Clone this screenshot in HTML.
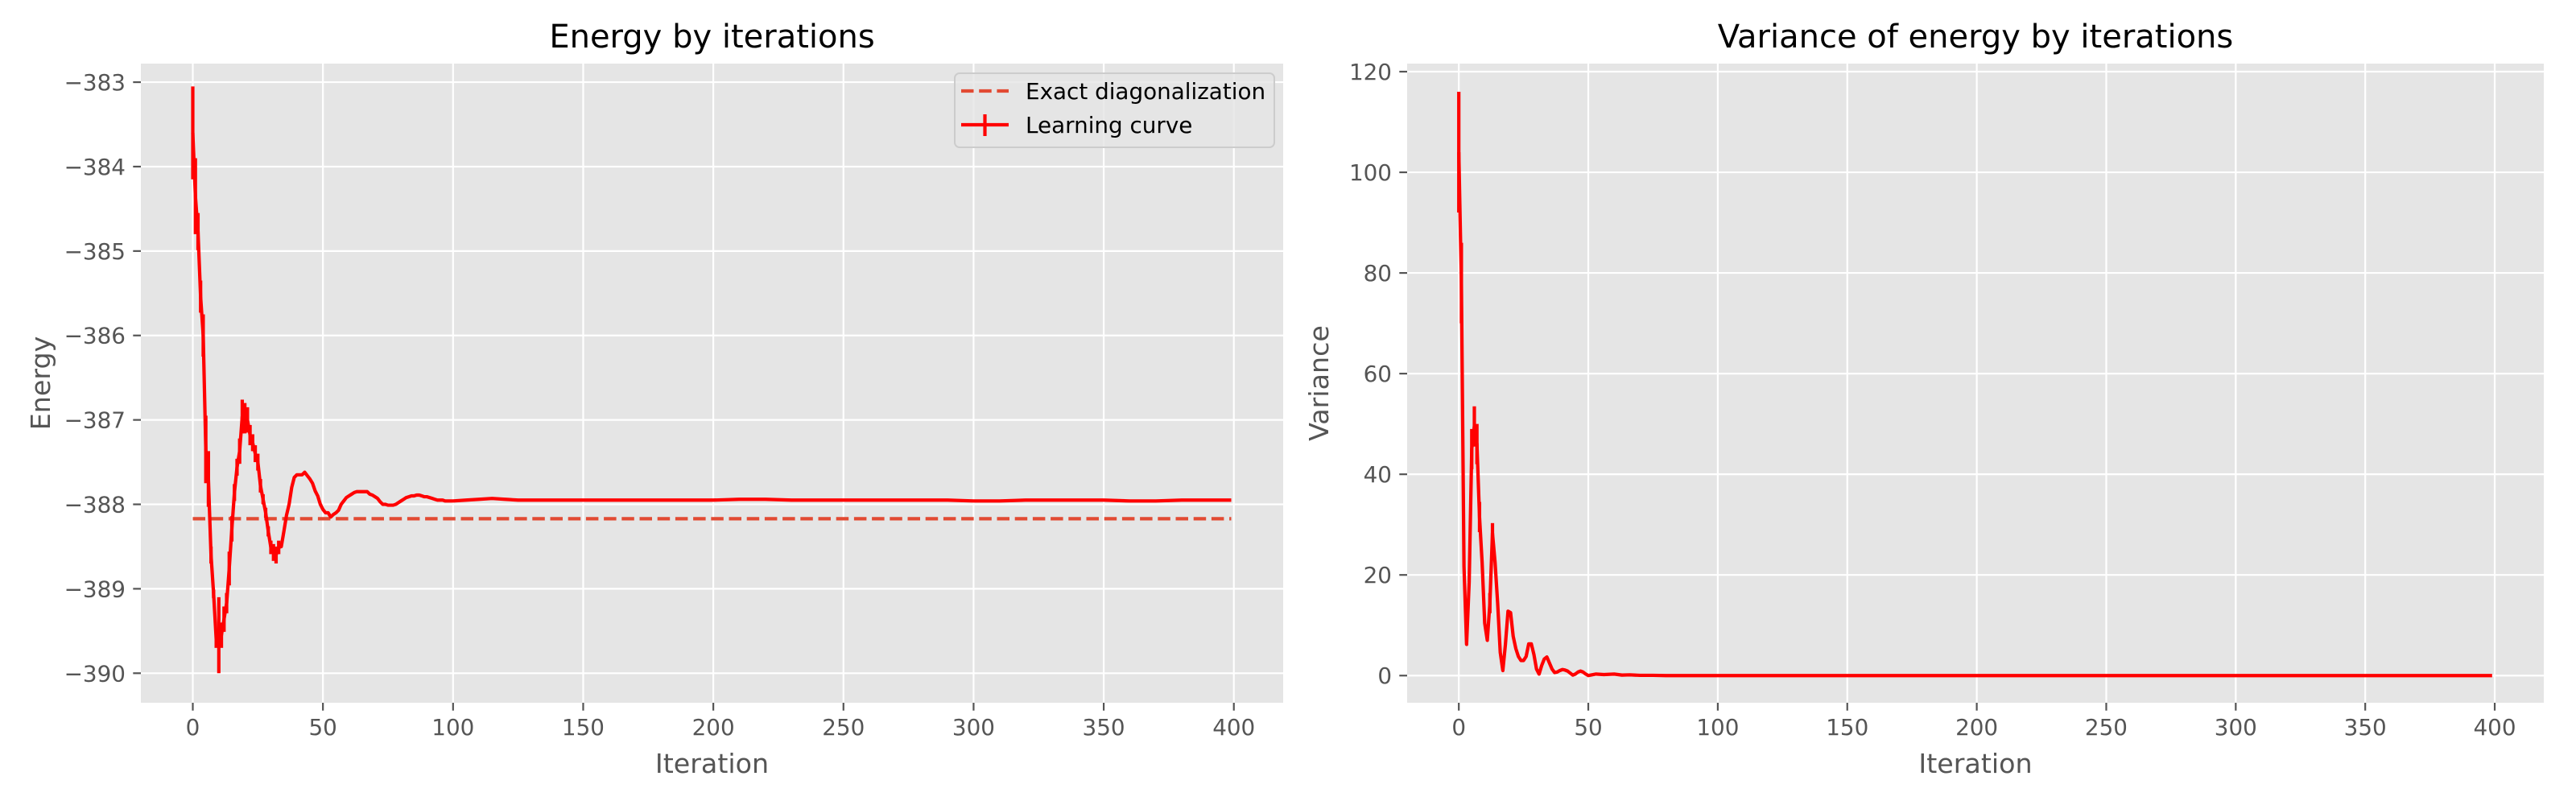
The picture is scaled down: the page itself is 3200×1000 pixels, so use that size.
<!DOCTYPE html>
<html><head><meta charset="utf-8"><style>
html,body{margin:0;padding:0;background:#fff;width:3200px;height:1000px;overflow:hidden}
svg{display:block}
text{font-family:"DejaVu Sans","Liberation Sans",sans-serif}
</style></head>
<body>
<svg id="fig" width="3200" height="1000" xmlns="http://www.w3.org/2000/svg"></svg>
<script>
// ---------- Energy data ----------
const energyIters = [0,1,2,3,4,5,6,7,8,9,10,11,12,13,14,15,16,17,18,19,20,21,22,23,24,25,26,27,28,29,30,31,32,33,34,35,36,37,38,39,40,41,42,43,44,45,46,47,48,49,50,51,52,53,54,55,56,57,58,59,60,61,62,63,64,65,66,67,68,69,70,71,72,73,74,75,76,77,78,79,80,81,82,83,84,85,86,87,88,89,90,91,92,93,94,95,96,97,98,99,100,105,110,115,120,125,130,140,150,160,170,180,190,200,210,220,230,240,250,260,270,280,290,300,310,320,330,340,350,360,370,380,390,399];
const energyValues = [
-383.6,-384.35,-384.77,-385.54,-386.0,-387.35,-387.7,-388.6,-389.06,-389.6,
-389.55,-389.55,-389.36,-389.17,-388.76,-388.29,-387.86,-387.56,-387.37,-386.96,
-386.98,-387.0,-387.18,-387.27,-387.4,-387.5,-387.78,-387.94,-388.1,-388.32,
-388.51,-388.57,-388.6,-388.51,-388.5,-388.32,-388.13,-388.0,-387.8,-387.68,
-387.65,-387.65,-387.65,-387.62,-387.66,-387.7,-387.75,-387.84,-387.9,-388.0,
-388.06,-388.1,-388.1,-388.15,-388.12,-388.1,-388.07,-388.0,-387.96,-387.92,
-387.9,-387.88,-387.86,-387.85,-387.85,-387.85,-387.85,-387.85,-387.88,-387.89,
-387.91,-387.93,-387.97,-388.0,-388.0,-388.01,-388.01,-388.01,-388.0,-387.98,
-387.96,-387.94,-387.92,-387.91,-387.9,-387.9,-387.89,-387.89,-387.9,-387.91,
-387.91,-387.92,-387.93,-387.94,-387.95,-387.95,-387.95,-387.96,-387.96,-387.96,
-387.96,
-387.95,-387.94,-387.93,-387.94,-387.95,-387.95,
-387.95,-387.95,-387.95,-387.95,-387.95,-387.95,-387.95,-387.94,-387.94,-387.95,
-387.95,-387.95,-387.95,-387.95,-387.95,-387.95,-387.96,-387.96,-387.95,-387.95,
-387.95,-387.95,-387.96,-387.96,-387.95,-387.95,
-387.95];
const energyErrIters = [0,1,2,3,4,5,6,7,8,9,10,11,12,13,14,15,16,17,18,19,20,21,22,23,24,25,26,27,28,29,30,31,32,33];
const energyErrors = [0.55,0.45,0.22,0.19,0.25,0.4,0.33,0.1,0.05,0.1,0.45,0.15,0.15,0.12,0.2,0.15,0.1,0.1,0.15,0.2,0.18,0.15,0.12,0.1,0.1,0.1,0.08,0.06,0.06,0.06,0.08,0.1,0.1,0.08];
const exactValue = -388.17;
const energyTicks = [-383,-384,-385,-386,-387,-388,-389,-390];
const xTicks = [0,50,100,150,200,250,300,350,400];

// ---------- Variance data ----------
const varIters = [0,1,2,3,4,5,6,7,8,9,10,11,12,13,14,15,16,17,18,19,20,21,22,23,24,25,26,27,28,29,30,31,32,33,34,35,36,37,38,39,40,41,42,43,44,45,46,47,48,49,50,53,56,60,63,66,70,75,80,100,150,200,250,300,350,399];
const varValues = [104,78,21.7,6.2,18.5,45,49.5,46,31.5,22.5,10.4,7,14.4,28.3,22.5,14.4,4.6,1.0,6.2,12.8,12.5,7.8,5.4,3.8,3.0,3.0,3.8,6.3,6.3,4.2,1.3,0.3,2.0,3.3,3.7,2.5,1.3,0.6,0.7,1.0,1.2,1.1,0.9,0.5,0.1,0.3,0.7,0.9,0.7,0.3,0.0,0.3,0.2,0.3,0.1,0.15,0.05,0.05,0,0,0,0,0,0,0,0];
const varErrIters = [0,1,5,6,7,8,12,13];
const varErrors = [12,8,4,4,4,3,2,2];
const varTicks = [0,20,40,60,80,100,120];

const NS='http://www.w3.org/2000/svg';
const svg=document.getElementById('fig');
function mk(tag,attrs,parent){const e=document.createElementNS(NS,tag);for(const k in attrs)e.setAttribute(k,attrs[k]);(parent||svg).appendChild(e);return e;}
function fmt(v){return (v<0?'\u2212':'')+Math.abs(v);}

const XMIN=-19.95, XMAX=418.95;
function makeAxes(p){
  const g=mk('g',{});
  
  
  const sx=v=>p.L+(v-XMIN)/(XMAX-XMIN)*(p.R-p.L);
  const sy=v=>p.B-(v-p.ymin)/(p.ymax-p.ymin)*(p.B-p.T);
  const bg=mk('rect',{x:p.L,y:p.T,width:p.R-p.L,height:p.B-p.T,fill:'#E5E5E5'},g);
  
  
  p.yticks.forEach(t=>{
    const y=sy(t);
    mk('line',{x1:p.L,x2:p.R,y1:y,y2:y,stroke:'#fff','stroke-width':2.2},g);
    mk('line',{x1:p.L-9.7,x2:p.L,y1:y,y2:y,stroke:'#555','stroke-width':2.2},g);
    const tx=mk('text',{x:p.L-19,y:y+10,'text-anchor':'end','font-size':27.8,fill:'#555'},g);
    tx.textContent=fmt(t);
    
    
  });
  xTicks.forEach(t=>{
    const x=sx(t);
    mk('line',{x1:x,x2:x,y1:p.T,y2:p.B,stroke:'#fff','stroke-width':2.2},g);
    mk('line',{x1:x,x2:x,y1:p.B,y2:p.B+9.7,stroke:'#555','stroke-width':2.2},g);
    const tx=mk('text',{x:x,y:p.B+40,'text-anchor':'middle','font-size':27.8,fill:'#555'},g);
    tx.textContent=t;
    
    
  });
  const title=mk('text',{x:(p.L+p.R)/2,y:p.T-20,'text-anchor':'middle','font-size':40,fill:'#000'},g);
  title.textContent=p.title;
  
  
  const xl=mk('text',{x:(p.L+p.R)/2,y:960,'text-anchor':'middle','font-size':33.3,fill:'#555'},g);
  xl.textContent='Iteration';
  
  
  const yl=mk('text',{x:0,y:0,'text-anchor':'middle','font-size':33.3,fill:'#555',transform:`translate(${p.ylx},${(p.T+p.B)/2}) rotate(-90)`},g);
  yl.textContent=p.ylabel;
  
  
  return {g,sx,sy};
}

// ---------- Left: energy ----------
const A=makeAxes({name:'energy-chart',L:175,R:1594,T:79,B:873,ymin:-390.35,ymax:-382.78,yticks:energyTicks,title:'Energy by iterations',ylabel:'Energy',ylx:62});
const exact=mk('line',{x1:A.sx(0),x2:A.sx(399),y1:A.sy(exactValue),y2:A.sy(exactValue),stroke:'#E24A33','stroke-width':4.2,'stroke-dasharray':'15.5 6.7'},A.g);


const ePts=energyIters.map((it,i)=>A.sx(it).toFixed(2)+','+A.sy(energyValues[i]).toFixed(2)).join(' ');
const eLine=mk('polyline',{points:ePts,fill:'none',stroke:'#FF0000','stroke-width':4.2,'stroke-linejoin':'round'},A.g);


energyErrIters.forEach((it,i)=>{
  const idx=energyIters.indexOf(it);const v=energyValues[idx];
  const b=mk('line',{x1:A.sx(it),x2:A.sx(it),y1:A.sy(v-energyErrors[i]),y2:A.sy(v+energyErrors[i]),stroke:'#FF0000','stroke-width':4.2},A.g);
  
  
});

// legend
const lg=mk('g',{});


mk('rect',{x:1186,y:91,width:397,height:92,rx:6,fill:'#E5E5E5','fill-opacity':0.8,stroke:'#cccccc','stroke-width':2},lg);
mk('line',{x1:1194,x2:1253,y1:113,y2:113,stroke:'#E24A33','stroke-width':4.2,'stroke-dasharray':'15.5 6.7'},lg);
const lt1=mk('text',{x:1274,y:123,'font-size':27.8,fill:'#000'},lg);lt1.textContent='Exact diagonalization';


mk('line',{x1:1194,x2:1253,y1:155,y2:155,stroke:'#FF0000','stroke-width':4.2},lg);
mk('line',{x1:1223.5,x2:1223.5,y1:142,y2:169,stroke:'#FF0000','stroke-width':4.2},lg);
const lt2=mk('text',{x:1274,y:165,'font-size':27.8,fill:'#000'},lg);lt2.textContent='Learning curve';



// ---------- Right: variance ----------
const B=makeAxes({name:'variance-chart',L:1748,R:3160,T:79,B:873,ymin:-5.4,ymax:121.6,yticks:varTicks,title:'Variance of energy by iterations',ylabel:'Variance',ylx:1650});
const vPts=varIters.map((it,i)=>B.sx(it).toFixed(2)+','+B.sy(varValues[i]).toFixed(2)).join(' ');
const vLine=mk('polyline',{points:vPts,fill:'none',stroke:'#FF0000','stroke-width':4.2,'stroke-linejoin':'round'},B.g);


varErrIters.forEach((it,i)=>{
  const idx=varIters.indexOf(it);const v=varValues[idx];
  const b=mk('line',{x1:B.sx(it),x2:B.sx(it),y1:B.sy(v-varErrors[i]),y2:B.sy(v+varErrors[i]),stroke:'#FF0000','stroke-width':4.2},B.g);
  
  
});
</script>
</body></html>
